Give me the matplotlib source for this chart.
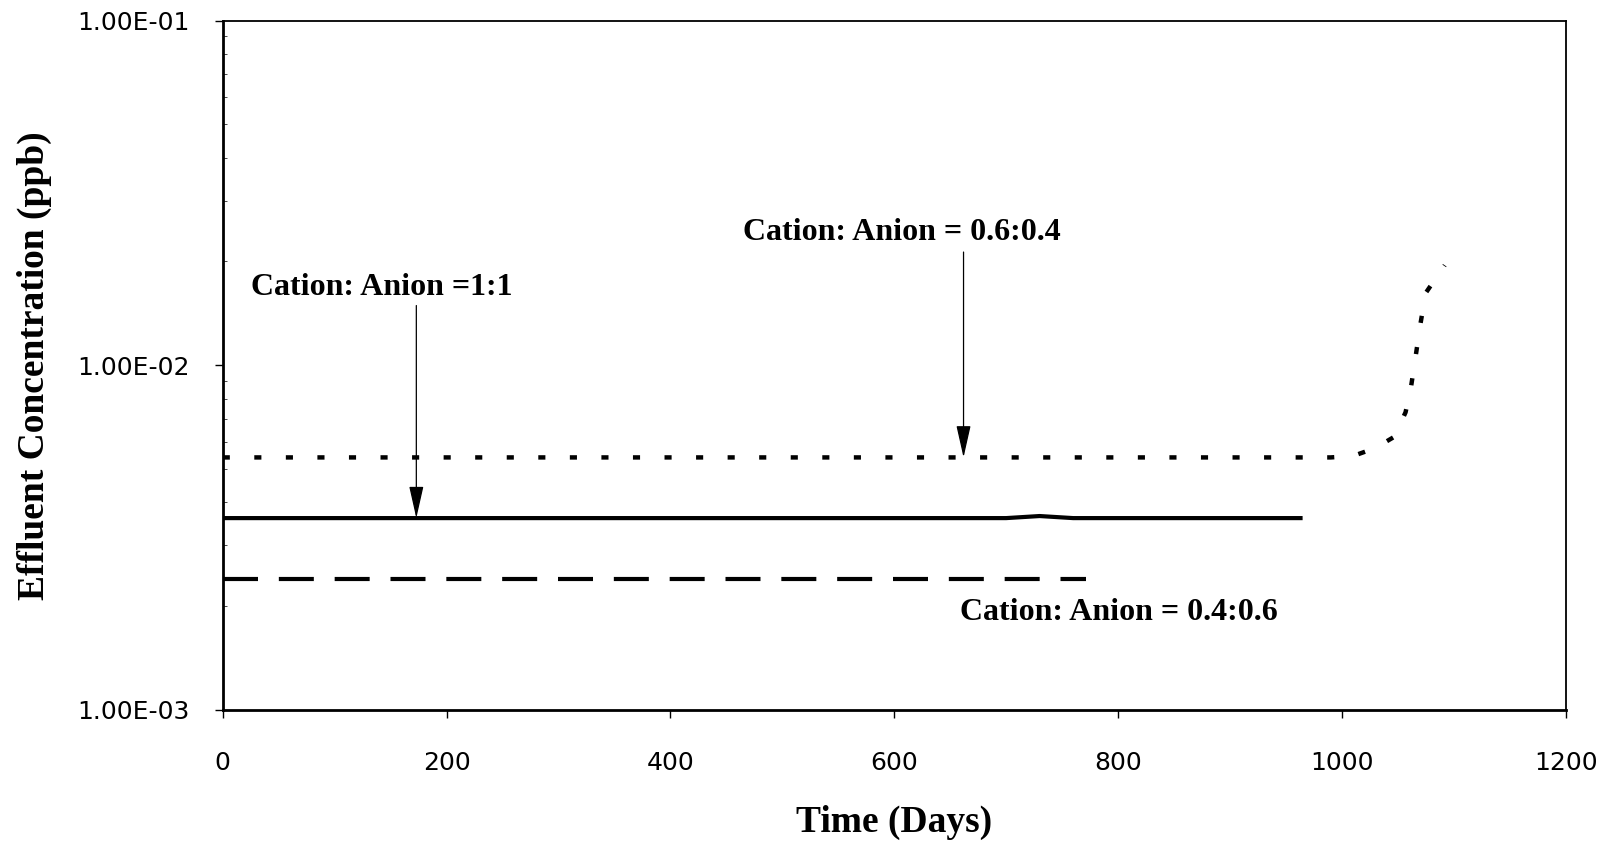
import numpy as np
import matplotlib.pyplot as plt
from matplotlib.ticker import FixedLocator, FuncFormatter, LogLocator, NullFormatter

# effluent concentration vs. time for three cation:anion resin ratios
days_60_40 = [0, 990, 1010, 1030, 1047, 1057, 1062, 1066, 1070, 1075, 1092]
conc_60_40 = [5.4e-3, 5.4e-3, 5.45e-3, 5.75e-3, 6.2e-3, 7.3e-3, 8.7e-3,
              1.06e-2, 1.3e-2, 1.62e-2, 1.95e-2]

days_1_1 = [0, 700, 730, 760, 965]
conc_1_1 = [3.6e-3, 3.6e-3, 3.65e-3, 3.6e-3, 3.6e-3]

days_40_60 = [0, 771]
conc_40_60 = [2.4e-3, 2.4e-3]

x_ticks = [0, 200, 400, 600, 800, 1000, 1200]
y_ticks = [1e-3, 1e-2, 1e-1]

SERIF = "Liberation Serif"

fig = plt.figure(figsize=(16.14, 8.41), dpi=100)
ax = fig.add_axes([0.138, 0.156, 0.832, 0.8195])

ax.plot(days_60_40, conc_60_40, color="black", lw=3.2,
        dashes=(1.6, 5.5), dash_capstyle="butt")
ax.plot(days_1_1, conc_1_1, color="black", lw=3.0, solid_capstyle="butt")
ax.plot(days_40_60, conc_40_60, color="black", lw=3.0,
        dashes=(8.4, 5.0), dash_capstyle="butt")

ax.set_yscale("log")
ax.set_xlim(0, 1200)
ax.set_ylim(1e-3, 1e-1)

ax.xaxis.set_major_locator(FixedLocator(x_ticks))
ax.yaxis.set_major_locator(FixedLocator(y_ticks))
ax.yaxis.set_major_formatter(FuncFormatter(lambda v, p: f"{v:.2E}"))
ax.yaxis.set_minor_locator(LogLocator(base=10, subs=np.arange(2, 10)))
ax.yaxis.set_minor_formatter(NullFormatter())

ax.tick_params(axis="both", which="major", direction="out", length=6,
               width=1.0, labelsize=18)
ax.tick_params(axis="y", which="major", pad=18)
ax.tick_params(axis="x", which="major", pad=24)
ax.tick_params(axis="y", which="minor", direction="in", length=3, width=0.5)
ax.tick_params(axis="x", which="minor", length=0)

for side in ["left", "bottom"]:
    ax.spines[side].set_linewidth(2.0)
for side in ["top", "right"]:
    ax.spines[side].set_linewidth(1.3)

ax.set_xlabel("Time (Days)", fontsize=27, fontweight="bold",
              fontfamily=SERIF, labelpad=21)
ax.set_ylabel("Effluent Concentration (ppb)", fontsize=27, fontweight="bold",
              fontfamily=SERIF, labelpad=18)

label_kw = dict(fontsize=23, fontweight="bold", fontfamily=SERIF, va="center")
arrow_kw = dict(arrowstyle="-|>,head_length=2.0,head_width=0.45",
                mutation_scale=10, lw=0.9, color="black", shrinkA=0, shrinkB=0)

# ratio labels with arrows pointing at their curves
ax.text(25, 1.68e-2, "Cation: Anion =1:1", ha="left", **label_kw)
ax.annotate("", xy=(173, conc_1_1[0]), xytext=(173, 1.49e-2),
            arrowprops=arrow_kw)

ax.text(607, 2.42e-2, "Cation: Anion = 0.6:0.4", ha="center", **label_kw)
ax.annotate("", xy=(662, conc_60_40[0]), xytext=(662, 2.13e-2),
            arrowprops=arrow_kw)

ax.text(659, 1.91e-3, "Cation: Anion = 0.4:0.6", ha="left", **label_kw)

fig.savefig("out.png", dpi=100)
